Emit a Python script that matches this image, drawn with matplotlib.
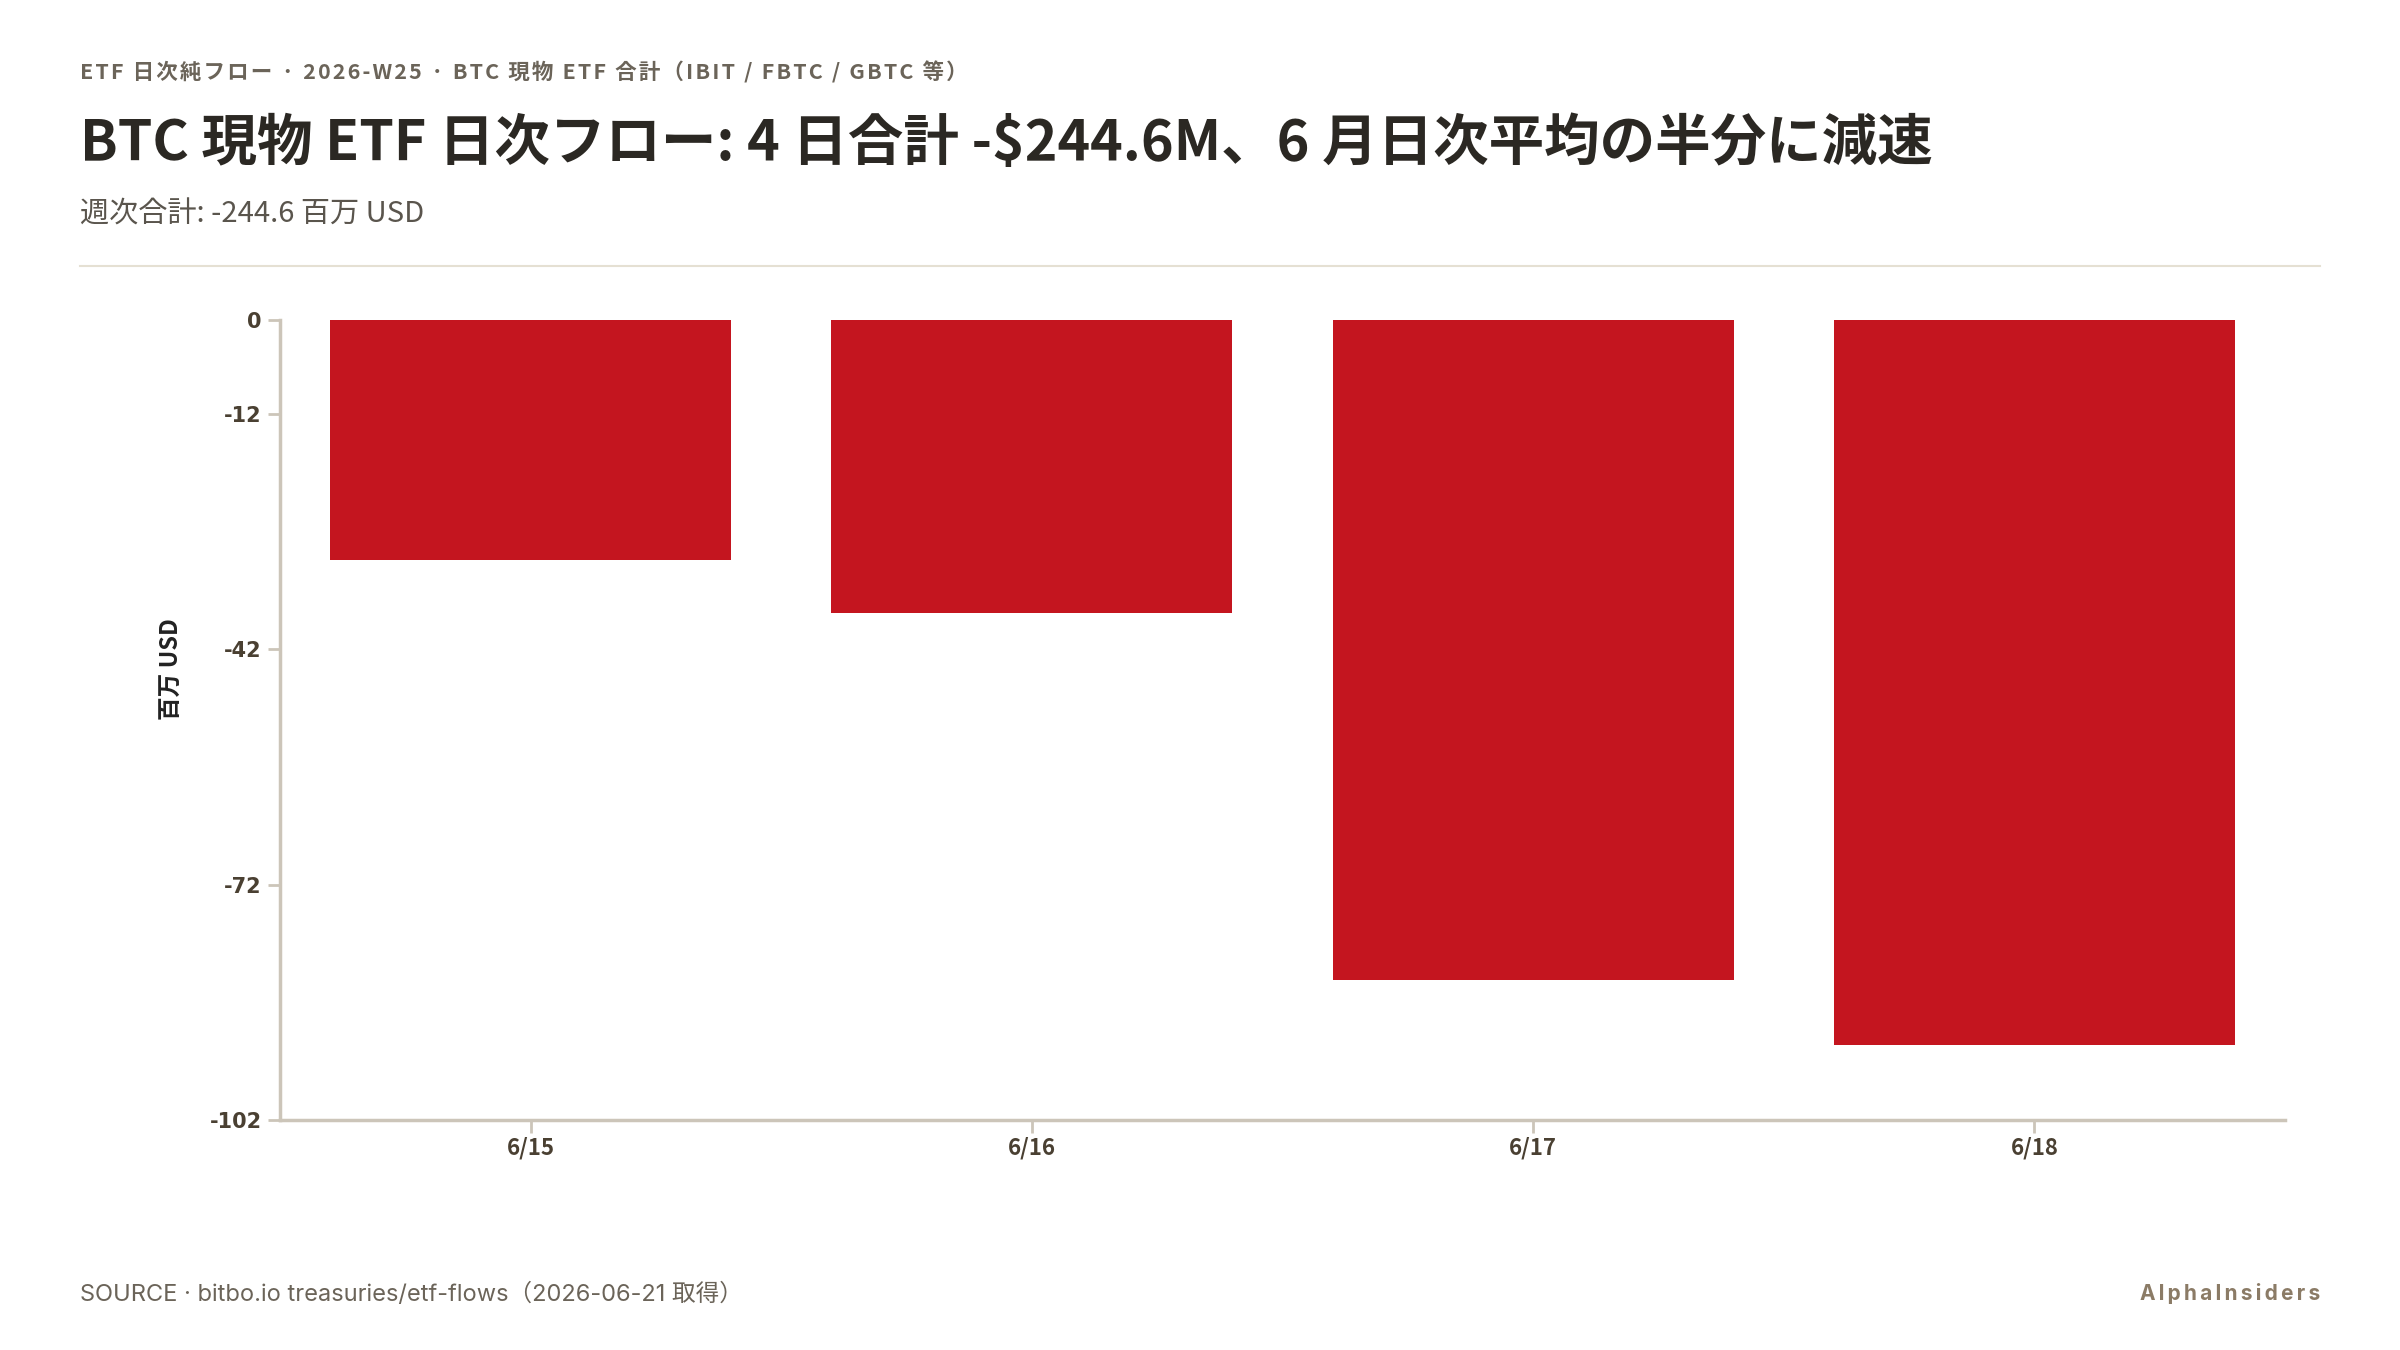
import matplotlib
matplotlib.use('Agg')
import matplotlib.pyplot as plt

plt.rcParams['font.family'] = ['Noto Sans CJK JP', 'DejaVu Sans']

days = ['6/15', '6/16', '6/17', '6/18']
flows = [-30.6, -37.3, -84.2, -92.5]
y_ticks = [0, -12, -42, -72, -102]

W, H = 2400, 1350
BAR = '#c4151f'
AXIS = '#ccc5b9'
INK = '#2b2823'
MUTED = '#6b6459'


def fx(px):
    return px / W


def fy(py):
    return 1 - py / H


def spaced(s, gap='\u200a'):
    # rough letter spacing
    return gap.join(s)


fig = plt.figure(figsize=(24, 13.5), dpi=100, facecolor='white')
ax = fig.add_axes([fx(280), fy(1120), fx(2285) - fx(280), fy(320) - fy(1120)])

x = range(len(days))
ax.bar(x, flows, width=0.8, color=BAR, zorder=2)

ax.set_xlim(-0.5, len(days) - 0.5)
ax.set_ylim(-102, 0)
ax.set_xticks(list(x))
ax.set_xticklabels(days, fontsize=16, fontweight='bold')
ax.set_yticks(y_ticks)
ax.set_yticklabels([str(t) for t in y_ticks], fontsize=15, fontweight='bold',
                   family='DejaVu Sans')
ax.tick_params(axis='both', colors=AXIS, length=9, width=2)
ax.tick_params(axis='x', labelcolor='#4a4032', pad=3)
ax.tick_params(axis='y', labelcolor='#4a4032', pad=4)
for side in ['top', 'right']:
    ax.spines[side].set_visible(False)
for side in ['left', 'bottom']:
    ax.spines[side].set_color(AXIS)
    ax.spines[side].set_linewidth(2.5)

fig.text(fx(172), fy(669), '百万 USD', rotation=90, ha='center', va='center',
         fontsize=17, fontweight='bold', color='#222222')

# header
fig.text(fx(80), fy(72), spaced('ETF 日次純フロー · 2026-W25 · BTC 現物 ETF 合計（IBIT / FBTC / GBTC 等）'),
         fontsize=15.5, fontweight='bold', color=MUTED, va='center')
fig.text(fx(80), fy(144), 'BTC 現物 ETF 日次フロー: 4 日合計 -$244.6M、6 月日次平均の半分に減速',
         fontsize=40, fontweight='bold', color=INK, va='center')
fig.text(fx(80), fy(215), '週次合計: -244.6 百万 USD',
         fontsize=21, color='#5a554d', va='center')
fig.add_artist(plt.Line2D([fx(80), fx(2320)], [fy(266), fy(266)], color='#e5e0d3', lw=1.5))

# footer
fig.text(fx(80), fy(1294), 'SOURCE · bitbo.io treasuries/etf-flows（2026-06-21 取得）',
         fontsize=17, color=MUTED, va='center', family=['Inter', 'Noto Sans CJK JP'])
fig.text(fx(2320), fy(1294), spaced('AlphaInsiders', '\u2009'), fontsize=15, fontweight='bold',
         color='#8b7b66', va='center', ha='right', family=['Inter', 'DejaVu Sans'])

fig.savefig('out.png', dpi=100, facecolor='white')
